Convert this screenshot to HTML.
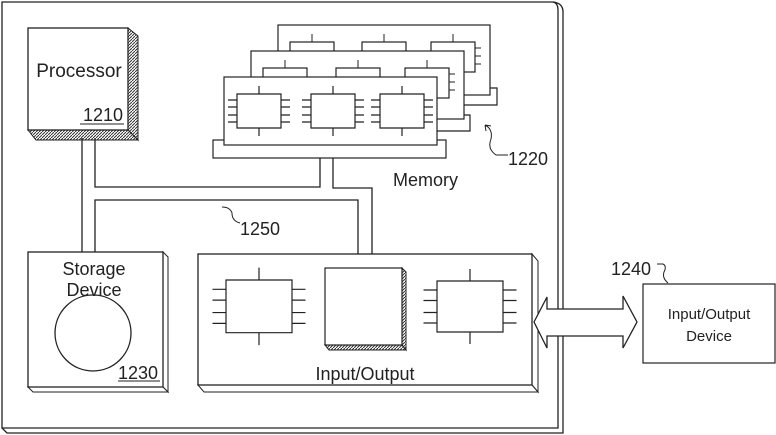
<!DOCTYPE html>
<html><head><style>body{margin:0;background:#fff}svg{display:block}text{font-family:"Liberation Sans",sans-serif;fill:#222}</style></head><body>
<svg width="776" height="435" viewBox="0 0 776 435" xmlns="http://www.w3.org/2000/svg">
<defs>
<pattern id="h" width="3" height="3" patternUnits="userSpaceOnUse"><path d="M0 3L3 0" stroke="#333" stroke-width="1"/></pattern>
<g id="chip">
<rect x="0" y="0" width="44" height="34" fill="#fff" stroke="#222" stroke-width="1.2" vector-effect="non-scaling-stroke"/>
<path d="M22 0v-8M22 34v8M0 6h-9M0 13h-9M0 21h-9M0 28h-9M44 6h9M44 13h9M44 21h9M44 28h9" stroke="#222" stroke-width="1.2" vector-effect="non-scaling-stroke"/>
</g>
</defs>
<g fill="none" stroke="#222" stroke-width="1.3">
<path d="M2 2H553Q558 3 558 10V428H2Z"/>
<path d="M553 2Q563 3 563 12V433H7L2 428"/>
<path d="M82 138V252M95 138V187H320V158M333 158V188H372V254M95 252V200H358V254"/>
</g>
<polygon points="128,28 138,36 138,140 128,130" fill="url(#h)" stroke="#222"/>
<polygon points="28,130 128,130 138,140 36,140" fill="url(#h)" stroke="#222"/>
<rect x="28" y="28" width="100" height="102" fill="#fff" stroke="#222" stroke-width="1.3"/>
<text x="79" y="77" font-size="19" text-anchor="middle">Processor</text>
<text x="103" y="121" font-size="18" text-anchor="middle">1210</text>
<line x1="80" y1="124" x2="124" y2="124" stroke="#222"/>
<g stroke="#222" stroke-width="1.2" fill="#fff">
<rect x="278" y="25" width="212" height="70"/>
<rect x="290" y="42" width="44" height="10"/><rect x="362" y="42" width="44" height="10"/><rect x="431" y="42" width="44" height="30"/>
<rect x="251" y="51" width="213" height="68"/>
<rect x="263" y="68" width="44" height="10"/><rect x="336" y="68" width="44" height="10"/><rect x="405" y="68" width="44" height="30"/>
<rect x="213" y="140" width="233" height="18"/>
<rect x="224" y="77" width="213" height="68"/>
</g>
<path d="M490 88H497V105H464M464 115H470V131H437" fill="none" stroke="#222" stroke-width="1.2"/>
<path d="M312 42v-8M384 42v-8M453 42v-8M285 68v-8M358 68v-8M427 68v-8M475 48h6M475 56h6M475 64h6M449 74h6M449 82h6M449 90h6" stroke="#222"/>
<use href="#chip" x="237" y="94"/><use href="#chip" x="311" y="94"/><use href="#chip" x="380" y="94"/>
<path d="M485 125q8 4 6 14q-4 10 5 16h12M485 125l6 1M485 125l1 6" fill="none" stroke="#222"/>
<text x="508" y="165" font-size="18">1220</text>
<text x="393" y="186" font-size="18">Memory</text>
<path d="M222 207q8 0 10 6q0 8 8 10" fill="none" stroke="#222"/>
<text x="240" y="235" font-size="18">1250</text>
<polygon points="163,252 168,257 168,392 163,387" fill="#fff" stroke="#222"/>
<polygon points="28,387 163,387 168,392 33,392" fill="#fff" stroke="#222"/>
<rect x="28" y="252" width="135" height="135" fill="#fff" stroke="#222" stroke-width="1.3"/>
<text x="94" y="275" font-size="18" text-anchor="middle">Storage</text>
<text x="94" y="296" font-size="18" text-anchor="middle">Device</text>
<circle cx="93" cy="333" r="38" fill="none" stroke="#222" stroke-width="1.3"/>
<text x="118" y="379" font-size="18">1230</text>
<line x1="118" y1="381" x2="160" y2="381" stroke="#222"/>
<polygon points="532,254 538,261 538,392 532,385" fill="#fff" stroke="#222"/>
<polygon points="198,385 532,385 538,392 204,392" fill="#fff" stroke="#222"/>
<rect x="198" y="254" width="334" height="131" fill="#fff" stroke="#222" stroke-width="1.3"/>
<g transform="translate(226,280) scale(1.5,1.55)"><use href="#chip"/></g>
<g transform="translate(437,281) scale(1.5,1.5)"><use href="#chip"/></g>
<polygon points="402,268 406,272 406,350 402,345" fill="url(#h)" stroke="#222"/>
<polygon points="325,345 402,345 406,350 329,350" fill="url(#h)" stroke="#222"/>
<rect x="325" y="268" width="77" height="77" fill="#fff" stroke="#222" stroke-width="1.2"/>
<text x="365" y="380" font-size="18" text-anchor="middle">Input/Output</text>
<polygon points="534,322 547,297 547,309 623,309 623,296 637,322 623,348 623,336 547,336 547,348" fill="#fff" stroke="#222" stroke-width="1.3"/>
<rect x="643" y="284" width="132" height="79" fill="#fff" stroke="#222" stroke-width="1.2"/>
<text x="709" y="319" font-size="15" text-anchor="middle">Input/Output</text>
<text x="709" y="341" font-size="15" text-anchor="middle">Device</text>
<text x="611" y="275" font-size="18">1240</text>
<path d="M657 264h6q4 2 1 8q-2 6 4 11" fill="none" stroke="#222"/>
</svg>
</body></html>
